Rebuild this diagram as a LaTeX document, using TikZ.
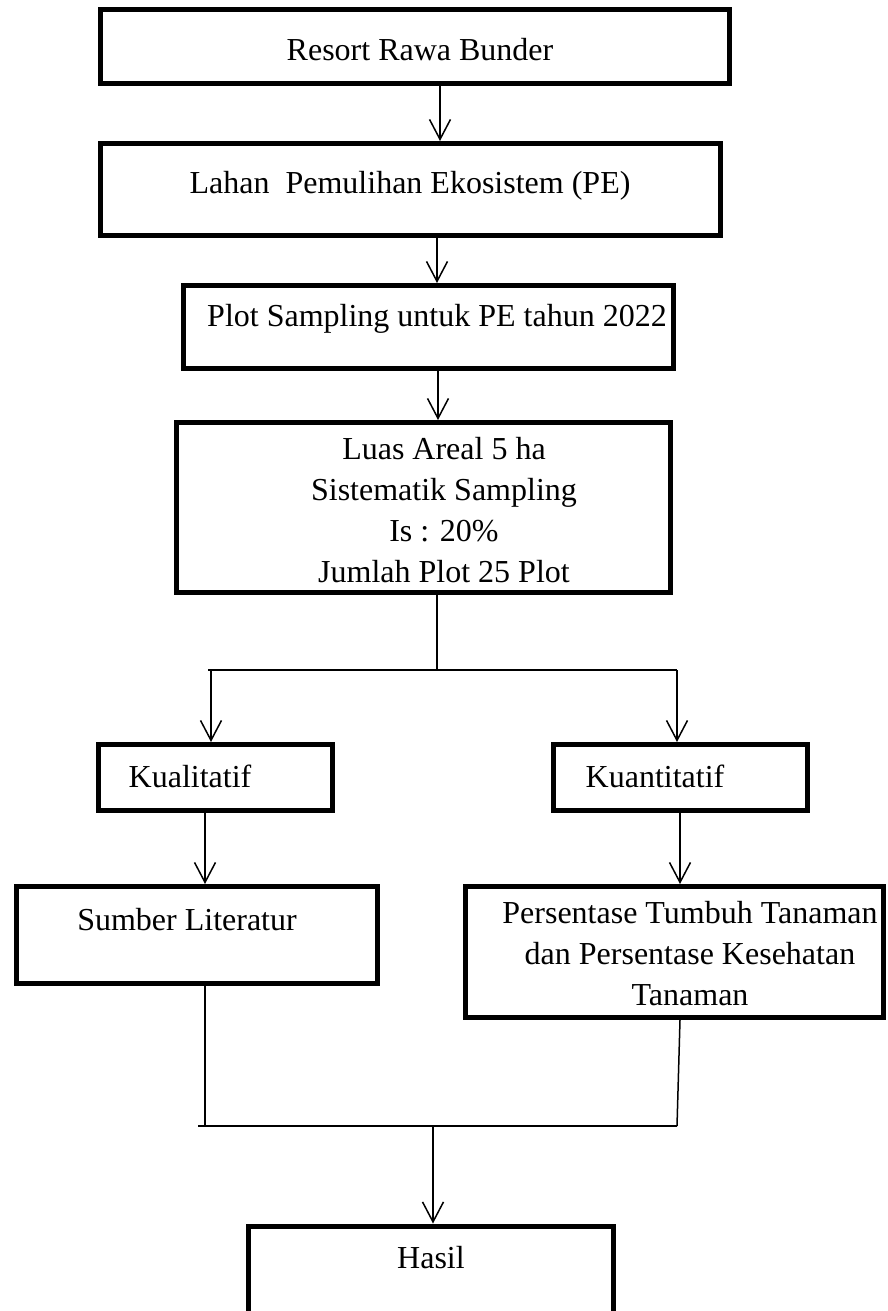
\documentclass[tikz,border=0pt]{standalone}
\usepackage{fontspec}
\setmainfont{Liberation Serif}
\usetikzlibrary{arrows.meta}
\begin{document}
\begin{tikzpicture}[x=1pt,y=-1pt,
        box/.style={draw,line width=5pt,inner sep=0pt},
        txt/.style={inner sep=0pt,anchor=base,align=center,font=\fontsize{32}{41}\selectfont},
        wire/.style={line width=1.5pt},
        arr/.style={wire,-{Straight Barb[length=20pt,width=21pt]}}]
        \useasboundingbox (0,0) rectangle (887,1311);

        \node[box,minimum width=629pt,minimum height=74pt] (resort) at (415,46.5) {};
        \node[box,minimum width=620pt,minimum height=92pt] (lahan) at (410.5,189.5) {};
        \node[box,minimum width=490pt,minimum height=83pt] (plot) at (428.5,327) {};
        \node[box,minimum width=494pt,minimum height=170pt] (luas) at (423.5,507.5) {};
        \node[box,minimum width=234pt,minimum height=66pt] (kual) at (215.5,777.5) {};
        \node[box,minimum width=254pt,minimum height=66pt] (kuan) at (680.5,777.5) {};
        \node[box,minimum width=361pt,minimum height=97pt] (sumber) at (197,935) {};
        \node[box,minimum width=418pt,minimum height=131pt] (persen) at (674.5,952) {};
        \node[box,minimum width=365pt,minimum height=114pt] (hasil) at (431,1283) {};

        \node[txt] (tresort) at (420,61) {Resort Rawa Bunder};
        \node[txt] (tlahan) at (410,193) {Lahan~ Pemulihan Ekosistem (PE)};
        \node[txt] (tplot) at (437,326) {Plot Sampling untuk PE tahun 2022};
        \node[txt] (tluas) at (444,582) {Luas Areal 5 ha\\Sistematik Sampling\\Is : 20\%\\Jumlah Plot 25 Plot};
        \node[txt] (tkual) at (190,787) {Kualitatif};
        \node[txt] (tkuan) at (655,787) {Kuantitatif};
        \node[txt] (tsumber) at (187,930) {Sumber Literatur};
        \node[txt] (tpersen) at (690,1005) {Persentase Tumbuh Tanaman\\dan Persentase Kesehatan\\Tanaman};
        \node[txt] (thasil) at (431,1268) {Hasil};

        \coordinate (col1) at (440,0);
        \coordinate (col2) at (437,0);
        \coordinate (col3) at (438,0);
        \coordinate (split) at (437,670);
        \coordinate (forkL) at (208,670);
        \coordinate (forkR) at (677,670);
        \coordinate (dropL) at (211,670);
        \coordinate (colL) at (205,0);
        \coordinate (colR) at (680,0);
        \coordinate (joinL) at (198,1126);
        \coordinate (joinR) at (677,1126);
        \coordinate (merge) at (433,1126);

        \draw[arr] (resort.south -| col1) -- (lahan.north -| col1);
        \draw[arr] (lahan.south -| col2) -- (plot.north -| col2);
        \draw[arr] (plot.south -| col3) -- (luas.north -| col3);

        \draw[wire] (luas.south -| split) -- (split);
        \draw[wire] (forkL) -- (forkR);
        \draw[arr] (dropL) -- (dropL |- kual.north);
        \draw[arr] (forkR) -- (forkR |- kuan.north);

        \draw[arr] (kual.south -| colL) -- (sumber.north -| colL);
        \draw[arr] (kuan.south -| colR) -- (persen.north -| colR);

        \draw[wire] (sumber.south -| colL) -- (colL |- joinL);
        \draw[wire] (persen.south -| colR) -- (joinR);
        \draw[wire] (joinL) -- (joinR);
        \draw[arr] (merge) -- (hasil.north -| merge);
\end{tikzpicture}
\end{document}
